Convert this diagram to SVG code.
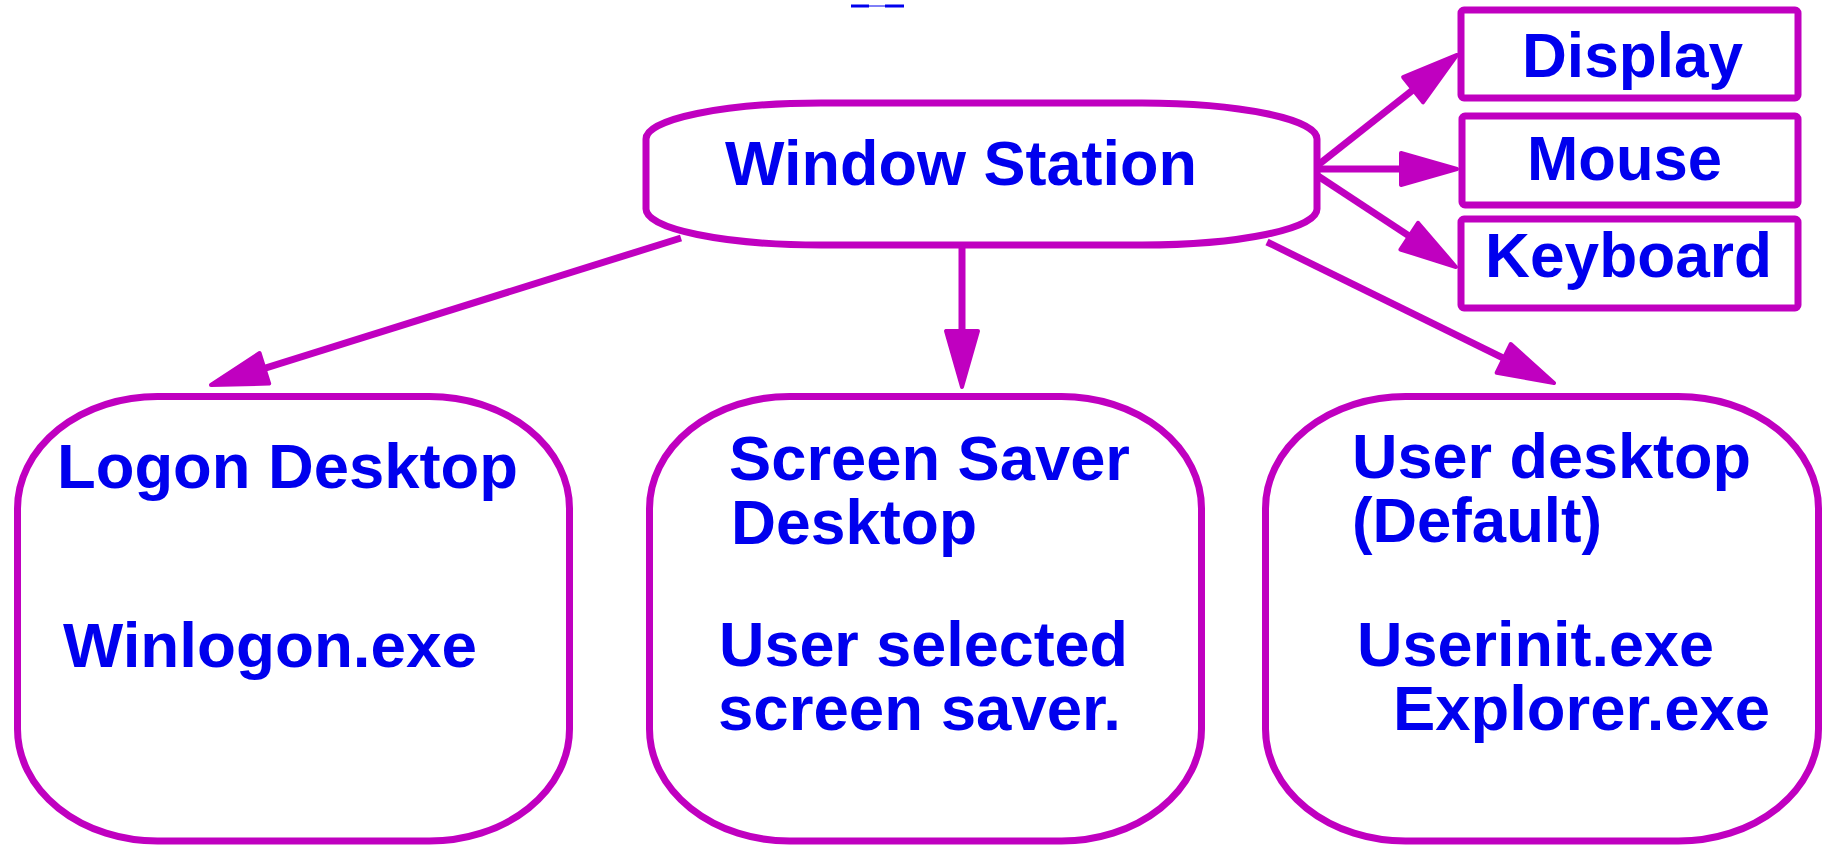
<svg xmlns="http://www.w3.org/2000/svg" width="1823" height="846" viewBox="0 0 1823 846">
<style>
.shape{fill:#fff;stroke:#C000C0;stroke-width:7}
.box{fill:#fff;stroke:#C000C0;stroke-width:7;stroke-linejoin:round}
.lbl{font-family:"Liberation Sans",Arial,Helvetica,sans-serif;font-weight:bold;font-size:63px;fill:#0000EE}
.conn{stroke:#C000C0;stroke-width:7;fill:none}
</style>
<defs>
<marker id="ah" viewBox="-3 -3 62 38" refX="11" refY="16" markerWidth="62" markerHeight="38" markerUnits="userSpaceOnUse" orient="auto">
<path d="M0,0 L56,16 L0,32 Z" fill="#C000C0" stroke="#C000C0" stroke-width="4" stroke-linejoin="round"/>
</marker>
</defs>
<rect width="1823" height="846" fill="#fff"/>
<g id="mark">
<rect x="851" y="4.5" width="18" height="3" fill="#0000EE"/>
<rect x="885" y="4.5" width="19" height="3" fill="#0000EE"/>
<line x1="869" y1="6" x2="885" y2="6" stroke="#0000EE" stroke-width="1"/>
</g>
<g id="connectors">
<line class="conn" x1="1318" y1="165" x2="1421.7" y2="82.9" marker-end="url(#ah)"/>
<line class="conn" x1="1318" y1="169" x2="1412" y2="169" marker-end="url(#ah)"/>
<line class="conn" x1="1318" y1="176" x2="1418.4" y2="242.2" marker-end="url(#ah)"/>
<line class="conn" x1="681" y1="238" x2="253.9" y2="371.6" marker-end="url(#ah)"/>
<line class="conn" x1="962" y1="246" x2="962" y2="342" marker-end="url(#ah)"/>
<line class="conn" x1="1267" y1="242" x2="1513.6" y2="363.2" marker-end="url(#ah)"/>
</g>
<g id="window-station">
<rect class="shape" x="646" y="103" width="671" height="142" rx="175" ry="36"/>
<text class="lbl" x="725" y="185" textLength="472" lengthAdjust="spacingAndGlyphs">Window Station</text>
</g>
<g id="display">
<rect class="box" x="1461" y="10" width="337" height="88" rx="3"/>
<text class="lbl" x="1522" y="77" textLength="221" lengthAdjust="spacingAndGlyphs">Display</text>
</g>
<g id="mouse">
<rect class="box" x="1462" y="116" width="336" height="89" rx="3"/>
<text class="lbl" x="1527" y="180" textLength="195" lengthAdjust="spacingAndGlyphs">Mouse</text>
</g>
<g id="keyboard">
<rect class="box" x="1461" y="219" width="337" height="89" rx="3"/>
<text class="lbl" x="1485" y="277" textLength="287" lengthAdjust="spacingAndGlyphs">Keyboard</text>
</g>
<g id="logon-desktop">
<rect class="shape" x="17.5" y="396.5" width="552" height="444.5" rx="140" ry="112"/>
<text class="lbl" x="57" y="488" textLength="461" lengthAdjust="spacingAndGlyphs">Logon Desktop</text>
<text class="lbl" x="63" y="667" textLength="414" lengthAdjust="spacingAndGlyphs">Winlogon.exe</text>
</g>
<g id="screen-saver-desktop">
<rect class="shape" x="649.5" y="396.5" width="552" height="444.5" rx="140" ry="112"/>
<text class="lbl" x="729" y="480" textLength="401" lengthAdjust="spacingAndGlyphs">Screen Saver</text>
<text class="lbl" x="731" y="544" textLength="246" lengthAdjust="spacingAndGlyphs">Desktop</text>
<text class="lbl" x="719" y="666" textLength="409" lengthAdjust="spacingAndGlyphs">User selected</text>
<text class="lbl" x="718" y="730" textLength="403" lengthAdjust="spacingAndGlyphs">screen saver.</text>
</g>
<g id="user-desktop">
<rect class="shape" x="1265.5" y="396.5" width="553" height="444.5" rx="140" ry="112"/>
<text class="lbl" x="1352" y="478" textLength="399" lengthAdjust="spacingAndGlyphs">User desktop</text>
<text class="lbl" x="1352" y="542" textLength="250" lengthAdjust="spacingAndGlyphs">(Default)</text>
<text class="lbl" x="1357" y="666" textLength="357" lengthAdjust="spacingAndGlyphs">Userinit.exe</text>
<text class="lbl" x="1393" y="730" textLength="377" lengthAdjust="spacingAndGlyphs">Explorer.exe</text>
</g>
</svg>
